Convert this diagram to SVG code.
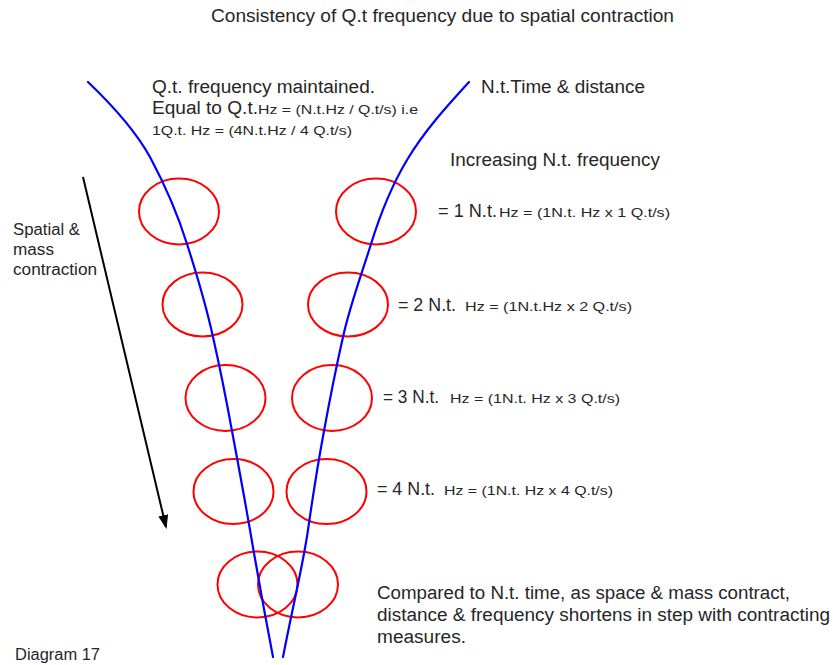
<svg xmlns="http://www.w3.org/2000/svg" width="836" height="665" viewBox="0 0 836 665">
<style>
text{font-family:"Liberation Sans",Arial,sans-serif;fill:#262626;}
.t{font-size:18px;}
.s{font-size:13px;}
.ring{fill:none;stroke:#ff0000;stroke-width:2;}
.blue{fill:none;stroke:#0000ff;stroke-width:2.2;stroke-linejoin:round;stroke-linecap:round;}
</style>
<defs>
<marker id="ah" markerWidth="14" markerHeight="10" refX="12" refY="5" orient="auto" markerUnits="userSpaceOnUse" viewBox="0 0 14 10">
<path d="M0,0 L14,5 L0,10 z" fill="#000"/>
</marker>
</defs>
<rect width="836" height="665" fill="#fff"/>
<text class="t" x="211" y="22" textLength="463" lengthAdjust="spacingAndGlyphs">Consistency of Q.t frequency due to spatial contraction</text>

<g id="rings">
<ellipse class="ring" cx="179" cy="211.5" rx="40" ry="33"/>
<ellipse class="ring" cx="376" cy="211.5" rx="40" ry="33"/>
<ellipse class="ring" cx="202.5" cy="304.5" rx="40" ry="32"/>
<ellipse class="ring" cx="348" cy="304.5" rx="40" ry="32"/>
<ellipse class="ring" cx="225.5" cy="398" rx="40" ry="33"/>
<ellipse class="ring" cx="332" cy="398" rx="40" ry="33"/>
<ellipse class="ring" cx="233.5" cy="491.5" rx="40" ry="32.5"/>
<ellipse class="ring" cx="326.5" cy="491.5" rx="40" ry="32.5"/>
<ellipse class="ring" cx="257.5" cy="584.5" rx="40" ry="33"/>
<ellipse class="ring" cx="298" cy="584.5" rx="40" ry="33"/>
</g>

<g id="connectors">
<path class="blue" d="M88,82 C110,103 135,130 150,157 C165,185 178,215 187,244 C196,272 206,305 213,337 C220,368 226,398 232,431 C238,463 244,495 250,530 C256,565 264,610 273,657"/>
<path class="blue" d="M469,82 C448,105 425,130 407,160 C392,185 380,215 371,244 C362,273 350,305 343,337 C336,368 330,398 324,431 C318,463 313,495 308,530 C303,565 292,610 283,657"/>
<line x1="83" y1="177" x2="166" y2="527" stroke="#000" stroke-width="2" marker-end="url(#ah)"/>
</g>

<g id="label-qt">
<text class="t" x="152" y="93" textLength="223" lengthAdjust="spacingAndGlyphs">Q.t. frequency maintained.</text>
<text class="t" x="152" y="114" textLength="106" lengthAdjust="spacingAndGlyphs">Equal to Q.t.</text>
<text class="s" x="258" y="114" textLength="160" lengthAdjust="spacingAndGlyphs">Hz = (N.t.Hz / Q.t/s) i.e</text>
<text class="s" x="152" y="135" textLength="200" lengthAdjust="spacingAndGlyphs">1Q.t. Hz = (4N.t.Hz / 4 Q.t/s)</text>
</g>
<g id="label-nt">
<text class="t" x="481" y="93" textLength="164" lengthAdjust="spacingAndGlyphs">N.t.Time &amp; distance</text>
<text class="t" x="450" y="166" textLength="210" lengthAdjust="spacingAndGlyphs">Increasing N.t. frequency</text>
</g>
<g id="eq1">
<text class="t" x="438" y="217" textLength="59" lengthAdjust="spacingAndGlyphs">= 1 N.t.</text>
<text class="s" x="499" y="217" textLength="171" lengthAdjust="spacingAndGlyphs">Hz = (1N.t. Hz x 1 Q.t/s)</text>
</g>
<g id="eq2">
<text class="t" x="398" y="311" textLength="58" lengthAdjust="spacingAndGlyphs">= 2 N.t.</text>
<text class="s" x="465" y="311" textLength="167" lengthAdjust="spacingAndGlyphs">Hz = (1N.t.Hz x 2 Q.t/s)</text>
</g>
<g id="eq3">
<text class="t" x="383" y="403" textLength="56" lengthAdjust="spacingAndGlyphs">= 3 N.t.</text>
<text class="s" x="450" y="403" textLength="170" lengthAdjust="spacingAndGlyphs">Hz = (1N.t. Hz x 3 Q.t/s)</text>
</g>
<g id="eq4">
<text class="t" x="377" y="495" textLength="58" lengthAdjust="spacingAndGlyphs">= 4 N.t.</text>
<text class="s" x="444" y="495" textLength="169" lengthAdjust="spacingAndGlyphs">Hz = (1N.t. Hz x 4 Q.t/s)</text>
</g>
<g id="label-spatial">
<text class="t" x="13" y="235" textLength="67" lengthAdjust="spacingAndGlyphs" style="font-size:16px">Spatial &amp;</text>
<text class="t" x="13" y="255" textLength="41" lengthAdjust="spacingAndGlyphs" style="font-size:16px">mass</text>
<text class="t" x="13" y="275" textLength="84" lengthAdjust="spacingAndGlyphs" style="font-size:16px">contraction</text>
</g>
<g id="label-compared">
<text class="t" x="377" y="599" textLength="413" lengthAdjust="spacingAndGlyphs">Compared to N.t. time, as space &amp; mass contract,</text>
<text class="t" x="377" y="621" textLength="453" lengthAdjust="spacingAndGlyphs">distance &amp; frequency shortens in step with contracting</text>
<text class="t" x="377" y="643" textLength="89" lengthAdjust="spacingAndGlyphs">measures.</text>
</g>
<text class="t" x="15" y="660" textLength="85" lengthAdjust="spacingAndGlyphs" style="font-size:16px">Diagram 17</text>
</svg>
